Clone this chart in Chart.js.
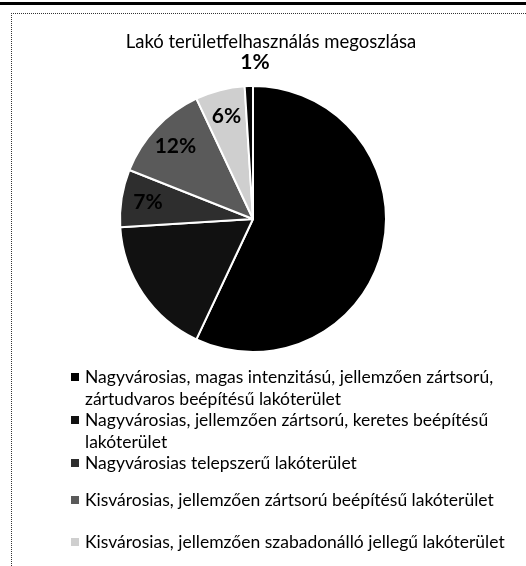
<!DOCTYPE html>
<html>
<head>
<meta charset="utf-8">
<script src="https://cdn.jsdelivr.net/npm/chart.js@4"></script>
<style>
  body { margin: 0; background: #fff; font-family: Lato, "Open Sans", sans-serif; }
  #wrap { position: relative; width: 526px; height: 566px; overflow: hidden; }
  #topline { position: absolute; left: 0; top: 2px; width: 526px; height: 3px; background: #000; }
  #frame { position: absolute; left: 11px; top: 13px; width: 540px; height: 600px;
           border-left: 1px dotted #333; border-top: 1px dotted #333; }
  #cv { position: absolute; left: 0; top: 0; }
  #title { position: absolute; left: 0; width: 542px; top: 30px; text-align: center; font-size: 18.5px; color: #000; }
  #legend { position: absolute; left: 70px; top: 366px; width: 440px; }
  .item { position: relative; padding-left: 15px; font-size: 17.5px; line-height: 21.5px; color: #000; width: 425px; }
  .item .box { position: absolute; left: 1px; top: 7px; width: 8px; height: 8px; }
</style>
</head>
<body>
<div id="wrap">
  <div id="topline"></div>
  <div id="frame"></div>
  <canvas id="cv" width="526" height="566"></canvas>
  <div id="title">Lakó területfelhasználás megoszlása</div>
  <div id="legend"></div>
</div>
<script>
// kategóriák
const kategoriak = [
  'Nagyvárosias, magas intenzitású, jellemzően zártsorú, zártudvaros beépítésű lakóterület',
  'Nagyvárosias, jellemzően zártsorú, keretes beépítésű lakóterület',
  'Nagyvárosias telepszerű lakóterület',
  'Kisvárosias, jellemzően zártsorú beépítésű lakóterület',
  'Kisvárosias, jellemzően szabadonálló jellegű lakóterület',
  'Egyéb lakóterület'
];
// százalékok
const ertekek = [57, 17, 7, 12, 6, 1];
const szinek = ['#000000', '#111111', '#2e2e2e', '#5a5a5a', '#cfcfcf', '#050505'];
const legendaDarab = 5;

// legenda (html)
const legend = document.getElementById('legend');
const gaps = [0, 0, 15, 21, 0];
for (let i = 0; i < legendaDarab; i++) {
  const d = document.createElement('div');
  d.className = 'item';
  d.style.marginBottom = gaps[i] + 'px';
  d.innerHTML = '<span class="box" style="background:' + szinek[i] + '"></span>' + kategoriak[i];
  legend.appendChild(d);
}

// százalék feliratok (a fekete szeleteken a fekete felirat úgysem látszik)
const feliratok = {
  id: 'feliratok',
  afterDatasetsDraw(chart) {
    const ctx = chart.ctx;
    const meta = chart.getDatasetMeta(0);
    ctx.save();
    ctx.font = 'bold 21px Lato, sans-serif';
    ctx.fillStyle = '#000';
    ctx.textAlign = 'center';
    ctx.textBaseline = 'middle';
    meta.data.forEach((arc, i) => {
      if (i < 2) return;
      const p = arc.getProps(['x', 'y', 'startAngle', 'endAngle', 'outerRadius'], true);
      const mid = (p.startAngle + p.endAngle) / 2;
      const r = ertekek[i] < 3 ? p.outerRadius + 24 : p.outerRadius * 0.8;
      let x = p.x + Math.cos(mid) * r;
      if (ertekek[i] < 3) x += 7;
      ctx.fillText(ertekek[i] + '%', x, p.y + Math.sin(mid) * r);
    });
    ctx.restore();
  }
};

new Chart(document.getElementById('cv'), {
  type: 'pie',
  data: {
    labels: kategoriak,
    datasets: [{
      data: ertekek,
      backgroundColor: szinek,
      borderColor: '#fff',
      borderWidth: 2
    }]
  },
  options: {
    responsive: false,
    animation: false,
    layout: { padding: { left: 119, right: 139, top: 85, bottom: 213 } },
    plugins: {
      legend: { display: false },
      tooltip: { enabled: false }
    }
  },
  plugins: [feliratok]
});
</script>
</body>
</html>
